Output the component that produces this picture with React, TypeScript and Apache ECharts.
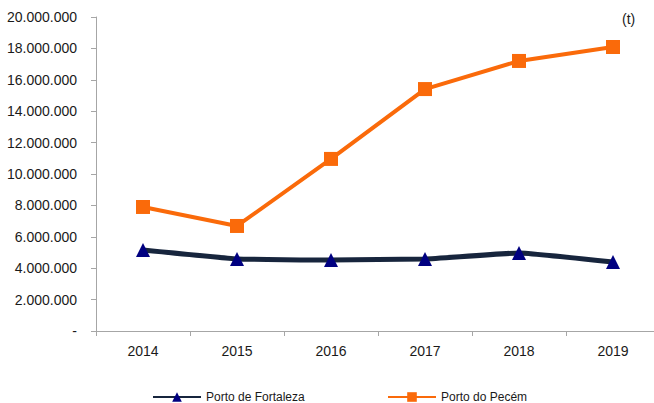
import React, { useEffect, useRef } from "react";
import * as echarts from "echarts";

const years = ["2014", "2015", "2016", "2017", "2018", "2019"];
const fortaleza = [5160000, 4590000, 4520000, 4590000, 4970000, 4390000];
const pecem = [7900000, 6690000, 10960000, 15410000, 17200000, 18090000];
const unitLabel = "(t)";

const FONT = "'Liberation Sans', Arial, sans-serif";

function fmt(v: number): string {
  if (v === 0) return "-";
  return String(Math.round(v)).replace(/\B(?=(\d{3})+(?!\d))/g, ".");
}

export default function App() {
  const ref = useRef<HTMLDivElement>(null);
  useEffect(() => {
    if (!ref.current) return;
    const chart = echarts.init(ref.current, null, { renderer: "svg" });
    chart.setOption({
      animation: false,
      backgroundColor: "#ffffff",
      textStyle: { fontFamily: FONT },
      grid: { left: 96, top: 17, width: 564, height: 314, containLabel: false },
      xAxis: {
        type: "category",
        data: years,
        boundaryGap: true,
        axisLine: { lineStyle: { color: "#A6A6A6", width: 1 } },
        axisTick: { show: true, length: 5, lineStyle: { color: "#A6A6A6" } },
        axisLabel: { color: "#1a1a1a", fontSize: 14, fontFamily: FONT, margin: 13 },
        splitLine: { show: false },
      },
      yAxis: {
        type: "value",
        min: 0,
        max: 20000000,
        interval: 2000000,
        axisLine: { show: true, lineStyle: { color: "#A6A6A6", width: 1 } },
        axisTick: { show: true, length: 5, lineStyle: { color: "#A6A6A6" } },
        axisLabel: {
          color: "#1a1a1a",
          fontSize: 14,
          fontFamily: FONT,
          margin: 19,
          formatter: (v: number) => fmt(v),
        },
        splitLine: { show: false },
      },
      legend: [
        {
          data: ["Porto de Fortaleza"],
          left: 152,
          top: 391,
          itemWidth: 48,
          itemHeight: 12,
          itemGap: 5,
          padding: 0,
          textStyle: { color: "#1a1a1a", fontSize: 12, fontFamily: FONT },
        },
        {
          data: ["Porto do Pecém"],
          left: 387,
          top: 391,
          itemWidth: 48,
          itemHeight: 12,
          itemGap: 5,
          padding: 0,
          textStyle: { color: "#1a1a1a", fontSize: 12, fontFamily: FONT },
        },
      ],
      graphic: [
        {
          type: "text",
          left: 622,
          top: 12,
          style: { text: unitLabel, fontSize: 14, fontFamily: FONT, fill: "#1a1a1a" },
        },
      ],
      series: [
        {
          name: "Porto de Fortaleza",
          type: "line",
          data: fortaleza,
          smooth: 0.1,
          symbol: "triangle",
          symbolSize: 14,
          lineStyle: { color: "#17253D", width: 5 },
          itemStyle: { color: "#000080" },
          z: 2,
        },
        {
          name: "Porto do Pecém",
          type: "line",
          data: pecem,
          symbol: "rect",
          symbolSize: 14,
          lineStyle: { color: "#FA6A0A", width: 4 },
          itemStyle: { color: "#FA6A0A" },
          z: 3,
        },
      ],
    });
    return () => chart.dispose();
  }, []);
  return (
    <div style={{ position: "absolute", left: 0, top: 0, width: 654, height: 403, overflow: "hidden" }}>
      <div ref={ref} style={{ width: 670, height: 403 }} />
    </div>
  );
}
